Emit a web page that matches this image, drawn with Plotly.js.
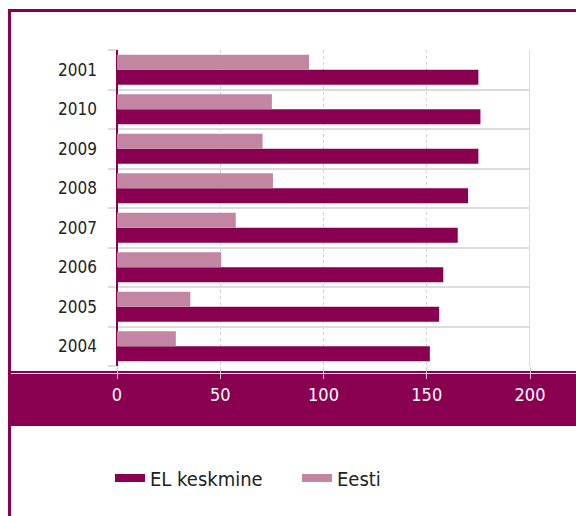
<!DOCTYPE html>
<html>
<head>
<meta charset="utf-8">
<script src="https://cdn.plot.ly/plotly-3.0.1.min.js"></script>
<style>
  html, body { margin: 0; padding: 0; background: #ffffff; }
  #chart { width: 576px; height: 516px; }
</style>
</head>
<body>
<div id="chart"></div>
<script>
// ---- data ----
const years = ['2004', '2005', '2006', '2007', '2008', '2009', '2010', '2001'];
const elKeskmine = [151.5, 156, 158, 165, 170, 175, 176, 175];
const eesti = [28.5, 35.5, 50.5, 57.5, 75.5, 70.5, 75, 93];
const xTicks = [0, 50, 100, 150, 200];
const seriesNames = ['EL keskmine', 'Eesti'];

// ---- style ----
const DARK = '#8a0050';
const LIGHT = '#c285a2';
const FONT = 'Liberation Sans Narrow, DejaVu Sans Condensed, Roboto, sans-serif';

const W = 576, H = 516;
const L = 117, R = 530, T = 50, B = 366;
function px(x) { return (x - L) / (R - L); }
function py(y) { return (B - y) / (B - T); }

const traces = [
  { type: 'bar', orientation: 'h', y: years, x: elKeskmine, name: seriesNames[0],
    marker: { color: DARK }, showlegend: false, hoverinfo: 'skip' },
  { type: 'bar', orientation: 'h', y: years, x: eesti, name: seriesNames[1],
    marker: { color: LIGHT }, showlegend: false, hoverinfo: 'skip' },
  { type: 'scatter', mode: 'lines', x: [null], y: [null], name: seriesNames[0],
    line: { color: DARK, width: 8 }, hoverinfo: 'skip' },
  { type: 'scatter', mode: 'lines', x: [null], y: [null], name: seriesNames[1],
    line: { color: LIGHT, width: 8 }, hoverinfo: 'skip' }
];

const layout = {
  width: W, height: H,
  margin: { l: L, r: W - R, t: T, b: H - B, pad: 0 },
  paper_bgcolor: '#ffffff',
  plot_bgcolor: '#ffffff',
  barmode: 'group',
  bargap: 0.24,
  bargroupgap: 0,
  font: { family: FONT, color: '#222222' },
  xaxis: {
    range: [0, 200],
    tickvals: xTicks,
    ticktext: xTicks.map(String),
    showgrid: true, griddash: 'dot', gridcolor: '#cfcfcf', gridwidth: 1,
    zeroline: true, zerolinecolor: DARK, zerolinewidth: 2,
    showline: false,
    ticks: 'outside', ticklen: 12, tickcolor: '#d8c8d0', tickwidth: 1,
    tickfont: { family: FONT, size: 18, color: '#ffffff' },
    fixedrange: true
  },
  yaxis: {
    type: 'category',
    categoryorder: 'array', categoryarray: years,
    tickson: 'boundaries',
    ticks: 'outside', ticklen: 8, tickcolor: '#dcdcdc', tickwidth: 2,
    showgrid: true, gridcolor: '#dcdcdc', gridwidth: 2,
    zeroline: false, showline: false,
    ticklabelstandoff: 19,
    tickfont: { family: FONT, size: 17, color: '#222222' },
    fixedrange: true
  },
  legend: {
    orientation: 'h',
    x: px(110), xanchor: 'left',
    y: py(478), yanchor: 'middle',
    font: { family: FONT, size: 20, color: '#222222' },
    entrywidth: 142,
    bgcolor: 'rgba(0,0,0,0)'
  },
  shapes: [
    { type: 'rect', xref: 'paper', yref: 'paper', x0: px(8), x1: px(580), y0: py(371), y1: py(426),
      fillcolor: DARK, line: { width: 0 }, layer: 'below' },
    { type: 'line', xref: 'paper', yref: 'paper', x0: px(8), x1: px(580), y0: py(373.5), y1: py(373.5),
      line: { color: '#ffffff', width: 1 }, layer: 'below' },
    { type: 'line', xref: 'paper', yref: 'paper', x0: px(8), x1: px(580), y0: py(10.5), y1: py(10.5),
      line: { color: DARK, width: 3 }, layer: 'above' },
    { type: 'line', xref: 'paper', yref: 'paper', x0: px(9.5), x1: px(9.5), y0: py(9), y1: py(520),
      line: { color: DARK, width: 3 }, layer: 'above' },
    { type: 'line', xref: 'x', yref: 'paper', x0: 200, x1: 200, y0: 0, y1: 1,
      line: { color: '#dcdcdc', width: 2 }, layer: 'below' }
  ]
};

Plotly.newPlot('chart', traces, layout, { displayModeBar: false, staticPlot: true });
</script>
</body>
</html>
